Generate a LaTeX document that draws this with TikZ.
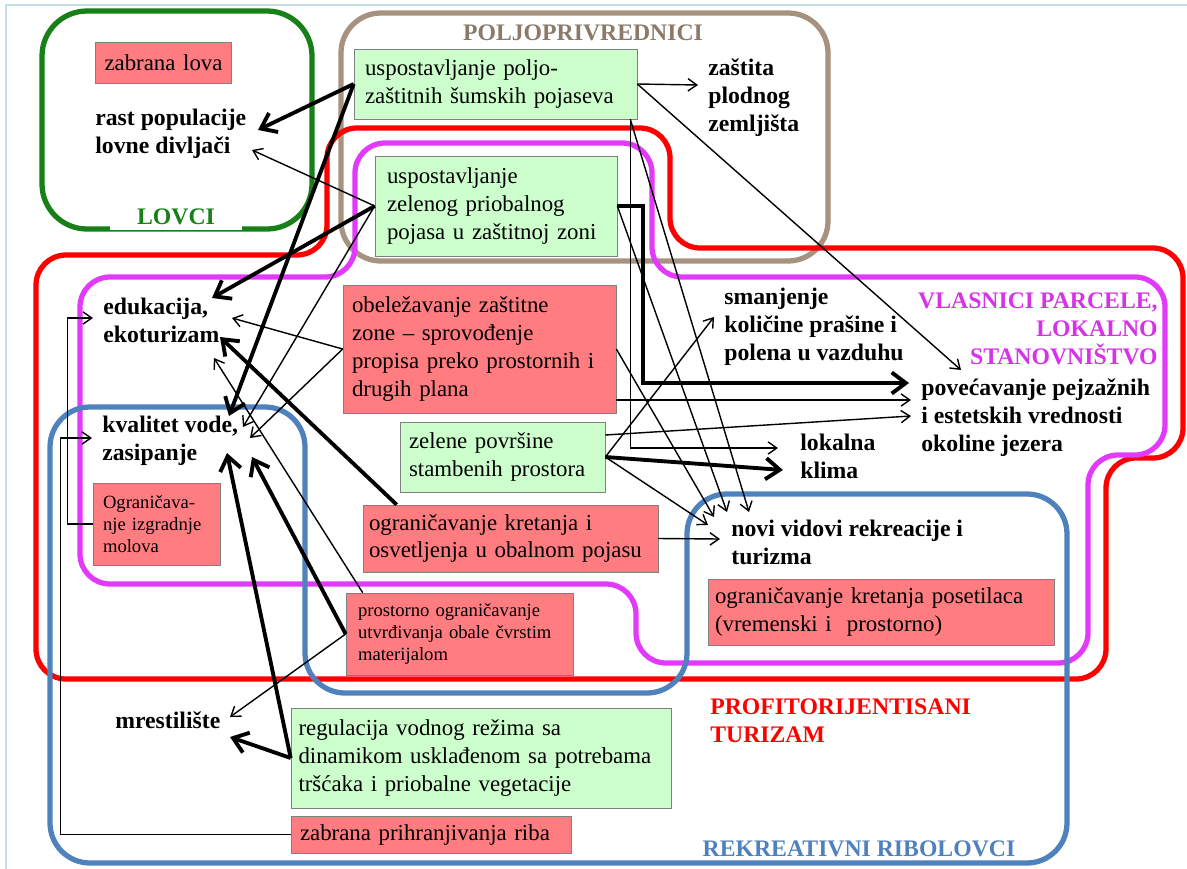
\documentclass[tikz,border=0pt]{standalone}
\usepackage{fontspec}
\setmainfont{Liberation Serif}
\usetikzlibrary{arrows.meta, positioning, calc}

\definecolor{pinkfill}{RGB}{255,124,128}
\definecolor{greenfill}{RGB}{204,255,204}
\definecolor{boxline}{RGB}{128,128,128}
\definecolor{huntgreen}{RGB}{24,128,24}
\definecolor{farmbrown}{RGB}{166,146,126}
\definecolor{farmtext}{RGB}{140,122,105}
\definecolor{ownermag}{RGB}{226,58,250}
\definecolor{ownertext}{RGB}{214,50,232}
\definecolor{fishblue}{RGB}{79,129,189}
\definecolor{slideframe}{RGB}{196,222,230}

\begin{document}
\begin{tikzpicture}[x=0.02cm, y=-0.02cm]
    \tikzstyle{pinkbox} = [draw=boxline, fill=pinkfill, align=left, font=\fontsize{13}{15.9}\selectfont]
    \tikzstyle{greenbox} = [draw=boxline, fill=greenfill, align=left, font=\fontsize{13}{15.9}\selectfont]
    \tikzstyle{effect} = [anchor=west, align=left, inner sep=0pt, font=\fontsize{13.5}{15.9}\selectfont\bfseries]
    \tikzstyle{grouplabel} = [inner sep=0pt, font=\fontsize{13.5}{15.9}\selectfont\bfseries]
    \tikzstyle{group} = [line width=3pt, rounded corners=0.6cm]
    \tikzstyle{weak} = [-{Straight Barb[length=5pt,width=7pt]}, line width=0.8pt]
    \tikzstyle{strong} = [-{Straight Barb[length=8pt,width=12pt]}, line width=2.2pt]

    \useasboundingbox (0,0) rectangle (1187,869);
    \draw[slideframe, line width=1.2pt] (1187,5) -- (6,5) -- (6,869);

    \draw[group, huntgreen, rounded corners=0.9cm] (42,11) rectangle (312,229);
    \draw[group, farmbrown, rounded corners=0.8cm] (341,13) rectangle (828,261);
    \draw[group, red] (200,255) -- (327,255) -- (327,128) -- (670,128) -- (670,248) -- (1183,248) -- (1183,458) -- (1106,458) -- (1106,679) -- (36,679) -- (36,255) -- cycle;
    \draw[group, ownermag] (200,277) -- (355,277) -- (355,143) -- (652,143) -- (652,277) -- (1165,277) -- (1165,455) -- (1088,455) -- (1088,663) -- (636,663) -- (636,584) -- (80,584) -- (80,277) -- cycle;
    \draw[group, fishblue, rounded corners=0.8cm] (200,407) -- (305,407) -- (305,693) -- (687,693) -- (687,494) -- (1067,494) -- (1067,863) -- (50,863) -- (50,407) -- cycle;

    \node[grouplabel, text=huntgreen, fill=white, minimum width=2.66cm, minimum height=0.52cm] (hunters) at (176,217) {LOVCI};
    \node[grouplabel, text=farmtext] (farmers) at (583,33) {POLJOPRIVREDNICI};
    \node[grouplabel, text=ownertext, anchor=east, align=right] (owners) at (1158,329) {VLASNICI PARCELE,\\LOKALNO\\STANOVNIŠTVO};
    \node[grouplabel, text=red, anchor=west, align=left] (tourism) at (710,721) {PROFITORIJENTISANI\\TURIZAM};
    \node[grouplabel, text=fishblue] (fishers) at (859,849) {REKREATIVNI RIBOLOVCI};

    \node[pinkbox, align=center, text width=2.5cm, minimum height=0.82cm] (huntban) at (163.5,62.5) {zabrana lova};
    \node[greenbox, text width=5.22cm, inner xsep=0.22cm, minimum height=1.4cm] (windbelt) at (495.5,84) {uspostavljanje poljo-\\zaštitnih šumskih pojaseva};
    \node[greenbox, text width=4.36cm, inner xsep=0.24cm, minimum height=2cm] (shorebelt) at (496,206) {uspostavljanje\\zelenog priobalnog\\pojasa u zaštitnoj zoni};
    \node[pinkbox, text width=5.1cm, inner xsep=0.18cm, minimum height=2.56cm] (marking) at (479.5,349) {obeležavanje zaštitne\\zone -- sprovođenje\\propisa preko prostornih i\\drugih plana};
    \node[greenbox, text width=3.74cm, inner xsep=0.18cm, minimum height=1.4cm] (yards) at (502.5,457) {zelene površine\\stambenih prostora};
    \node[pinkbox, text width=5.66cm, inner xsep=0.12cm, minimum height=1.34cm] (lighting) at (510.5,538.5) {ograničavanje kretanja i\\osvetljenja u obalnom pojasu};
    \node[pinkbox, font=\fontsize{10.6}{12.5}\selectfont, text width=4.06cm, inner xsep=0.24cm, minimum height=1.64cm] (hardshore) at (459.5,634) {prostorno ograničavanje\\utvrđivanja obale čvrstim\\materijalom};
    \node[pinkbox, font=\fontsize{10.6}{12.5}\selectfont, text width=2.14cm, inner xsep=0.2cm, minimum height=1.64cm] (piers) at (156.5,524) {Ograničava-\\nje izgradnje\\molova};
    \node[greenbox, text width=7.3cm, inner xsep=0.15cm, minimum height=2cm] (waterlevel) at (481,758) {regulacija vodnog režima sa\\dinamikom usklađenom sa potrebama\\tršćaka i priobalne vegetacije};
    \node[pinkbox, text width=5.24cm, inner xsep=0.18cm, minimum height=0.74cm] (feeding) at (431,834.5) {zabrana prihranjivanja riba};
    \node[pinkbox, text width=6.64cm, inner xsep=0.14cm, minimum height=1.32cm] (visitors) at (881,612) {ograničavanje kretanja posetilaca\\(vremenski i\ \ prostorno)};

    \node[effect] (game) at (95,134) {rast populacije\\lovne divljači};
    \node[effect] (soil) at (708,98) {zaštita\\plodnog\\zemljišta};
    \node[effect] (edu) at (103,320) {edukacija,\\ekoturizam};
    \node[effect] (water) at (102,441) {kvalitet vode,\\zasipanje};
    \node[effect] (spawn) at (115,720) {mrestilište};
    \node[effect] (dust) at (724,327) {smanjenje\\količine prašine i\\polena u vazduhu};
    \node[effect] (scenery) at (921,418) {povećavanje pejzažnih\\i estetskih vrednosti\\okoline jezera};
    \node[effect] (climate) at (800,456) {lokalna\\klima};
    \node[effect] (recreation) at (731,542) {novi vidovi rekreacije i\\turizma};

    \draw[strong] (windbelt.west) -- ($(game.west)+(163,-4)$);
    \draw[strong] (windbelt.west) -- ($(water.west)+(127,-25)$);
    \draw[weak] (windbelt.east) -- ($(soil.west)+(-10,-13)$);
    \draw[weak] (windbelt.east) -- ($(scenery.west)+(40,-48)$);
    \draw[weak] ($(windbelt.south east)+(-7,0)$) |- ($(climate.west)+(-22,-8)$);
    \draw[weak] ($(windbelt.south east)+(-7,0)$) -- ($(recreation.west)+(18,-30)$);
    \draw[weak] (shorebelt.west) -- ($(game.west)+(157,16)$);
    \draw[strong] (shorebelt.west) -- ($(edu.west)+(109,-22)$);
    \draw[weak] (shorebelt.west) -- ($(water.west)+(141,-14)$);
    \draw[strong] (shorebelt.east) -- ++(26,0) |- ($(scenery.west)+(-12,-35)$);
    \draw[weak] (shorebelt.east) -- ($(recreation.west)+(-4,-30)$);
    \draw[weak] (marking.west) -- ($(edu.west)+(129,-2)$);
    \draw[weak] (marking.west) -- ($(water.west)+(148,-3)$);
    \draw[weak] (marking.east) -- ($(recreation.west)+(-17,-25)$);
    \draw[weak] ($(marking.east)+(0,51)$) -- ($(scenery.west)+(-10,-18)$);
    \draw[weak] ($(yards.east)+(0,-22)$) -- ($(scenery.west)+(-10,-2)$);
    \draw[weak] (yards.east) -- ($(dust.west)+(-10,-10)$);
    \draw[strong] (yards.east) -- ($(climate.west)+(-17,14)$);
    \draw[weak] (yards.east) -- ($(recreation.west)+(-23,-17)$);
    \draw[strong] ($(lighting.north west)+(34,0)$) -- ($(edu.west)+(117,17)$);
    \draw[weak] (lighting.east) -- ($(recreation.west)+(-11,-3)$);
    \draw[weak] ($(hardshore.north west)+(17,0)$) -- ($(edu.west)+(111,38)$);
    \draw[strong] (hardshore.west) -- ($(water.west)+(150,16)$);
    \draw[weak] (hardshore.west) -- ($(spawn.west)+(115,-3)$);
    \draw[strong] (waterlevel.west) -- ($(water.west)+(125,12)$);
    \draw[strong] (waterlevel.west) -- ($(spawn.west)+(115,17)$);
    \draw[weak] (feeding.west) -- ++(-230,0) |- ($(water.west)+(-10,-3)$);
    \draw[weak] (piers.west) -- ++(-25,0) |- ($(edu.west)+(-10,-2)$);
\end{tikzpicture}
\end{document}
